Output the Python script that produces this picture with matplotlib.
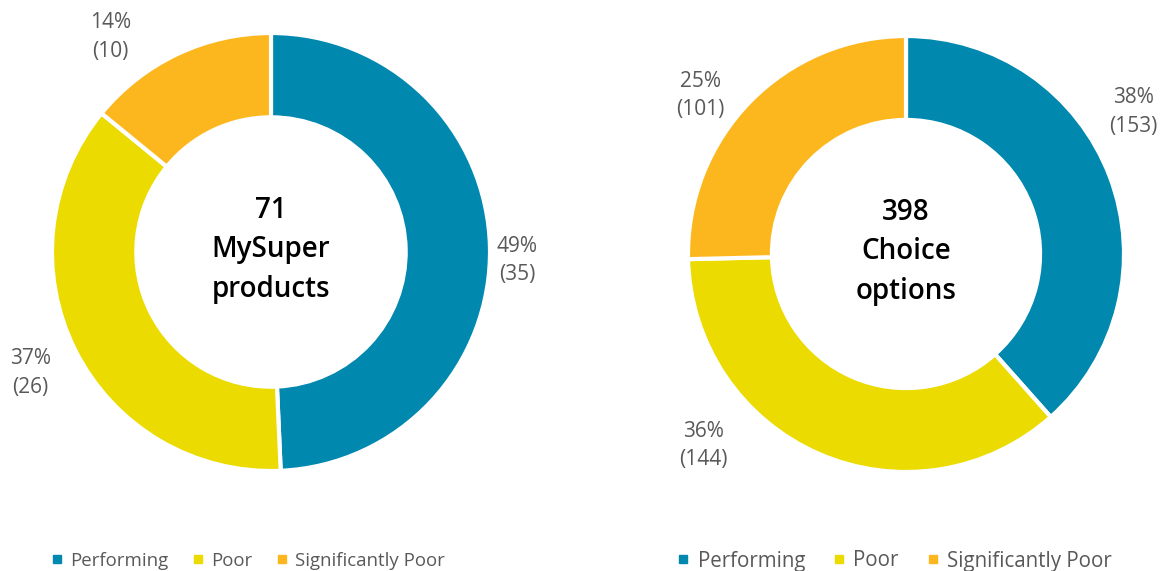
import matplotlib
matplotlib.use('Agg')
import numpy as np
import matplotlib.pyplot as plt
from matplotlib.lines import Line2D

plt.rcParams['font.family'] = ['Open Sans', 'DejaVu Sans']

categories = ['Performing', 'Poor', 'Significantly Poor']
colors = ['#0088AE', '#EBDB00', '#FDB71E']

mysuper_counts = [35, 26, 10]
mysuper_pcts = ['49%', '37%', '14%']
choice_counts = [153, 144, 101]
choice_pcts = ['38%', '36%', '25%']

W, H = 1161, 571
fig = plt.figure(figsize=(W / 100, H / 100), dpi=100)
grey = '#595959'


def add_donut(cx, cy, r, counts, pcts, centre, label_pos, leg_x, leg_size, colsp):
    # axes box in pixel coords -> figure fraction
    ax = fig.add_axes([(cx - r) / W, (H - cy - r) / H, 2 * r / W, 2 * r / H])
    wedges, _ = ax.pie(counts, colors=colors, startangle=90, counterclock=False,
                       radius=1, wedgeprops=dict(width=0.385, edgecolor='white', linewidth=3))
    ax.set_xlim(-1, 1)
    ax.set_ylim(-1, 1)
    ax.set_aspect('equal')
    ax.axis('off')
    for w, n, p, (dist, ang) in zip(wedges, counts, pcts, label_pos):
        ax.text(dist * np.cos(np.radians(ang)), dist * np.sin(np.radians(ang)),
                f'{p}\n({n})', ha='center', va='center', fontsize=15,
                color=grey, linespacing=1.45)
    ax.text(0, 0.01, f'{sum(counts)}\n{centre}', ha='center', va='center',
            fontsize=20, color='black', linespacing=1.48, fontweight='semibold')
    handles = [Line2D([], [], marker='s', ls='', color=c, markersize=6) for c in colors]
    fig.legend(handles, categories, loc='center left', ncol=3, frameon=False,
               bbox_to_anchor=(leg_x / W, (H - 561) / H), fontsize=leg_size,
               labelcolor=grey, handletextpad=0.2, columnspacing=colsp,
               handlelength=1.0, borderpad=0, borderaxespad=0)


add_donut(271, 252, 219, mysuper_counts, mysuper_pcts, 'MySuper\nproducts',
          [(1.124, -1.9), (1.23, 206.7), (1.224, 126.7)], 48, 13.4, 1.1)
add_donut(906, 254, 218, choice_counts, choice_pcts, 'Choice\noptions',
          [(1.23, 32), (1.28, 223.4), (1.19, 142.3)], 673, 14.8, 1.15)

fig.savefig('out.png', dpi=100)
